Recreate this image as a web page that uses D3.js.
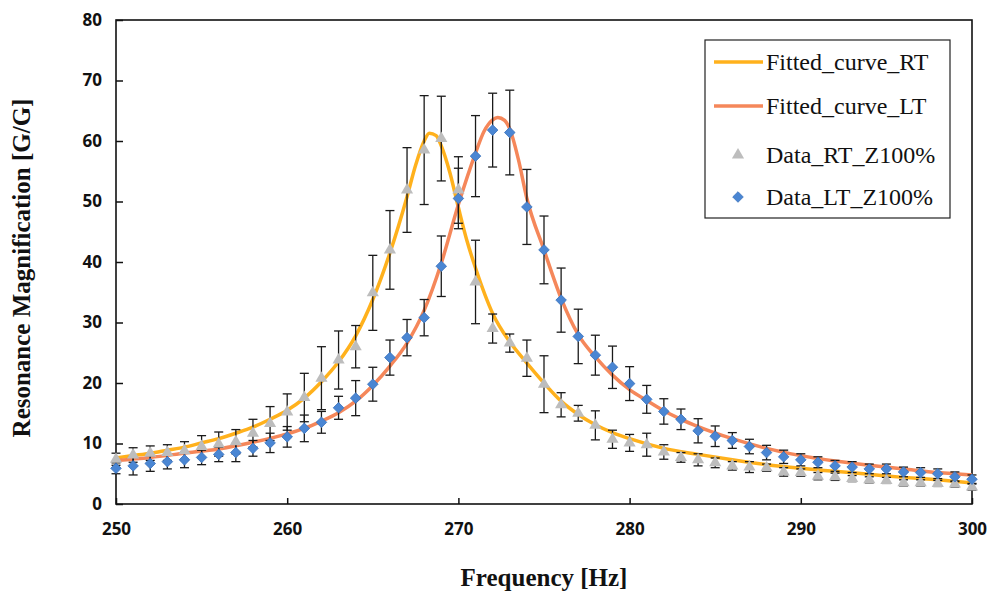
<!DOCTYPE html>
<html>
<head>
<meta charset="utf-8">
<script src="https://cdn.jsdelivr.net/npm/d3@7"></script>
<style>
  html, body { margin: 0; padding: 0; background: #fff; }
  svg { display: block; }
</style>
</head>
<body>
<svg id="chart" width="991" height="596"></svg>
<script>
// ---- data ----
const freq = d3.range(250, 301);

const rtValues = [7.4, 8.1, 8.4, 8.5, 8.8, 9.5, 9.9, 10.3, 11.7, 13.3,
  15.2, 17.6, 20.8, 23.8, 26.0, 34.9, 42.0, 51.9, 58.5, 60.4,
  51.9, 36.7, 29.0, 26.6, 24.1, 19.8, 16.4, 15.0, 13.0, 10.7,
  10.1, 9.8, 8.6, 7.7, 7.3, 6.8, 6.3, 6.1, 6.0, 5.3,
  5.2, 4.6, 4.5, 4.2, 4.0, 3.9, 3.5, 3.5, 3.4, 3.3, 2.8];
const rtErr = [1.0, 1.2, 1.2, 1.3, 1.5, 1.8, 2.0, 2.0, 2.3, 2.8,
  3.0, 4.0, 5.2, 4.8, 3.5, 6.2, 6.5, 7.0, 9.0, 7.0,
  5.5, 6.9, 2.4, 1.5, 3.0, 4.7, 2.0, 1.3, 2.4, 1.5,
  1.4, 1.9, 1.2, 0.8, 1.0, 0.8, 0.7, 0.9, 0.6, 0.7,
  0.6, 0.6, 0.6, 0.5, 0.5, 0.5, 0.5, 0.5, 0.5, 0.5, 0.5];

const ltValues = [5.9, 6.3, 6.7, 7.0, 7.3, 7.7, 8.2, 8.5, 9.2, 10.1,
  11.1, 12.5, 13.5, 15.9, 17.5, 19.8, 24.2, 27.5, 30.8, 39.3,
  50.5, 57.5, 61.8, 61.4, 49.1, 42.0, 33.7, 27.7, 24.6, 22.6,
  19.9, 17.3, 15.3, 14.0, 12.1, 11.2, 10.5, 9.5, 8.5, 7.8,
  7.3, 6.9, 6.3, 6.1, 5.8, 5.8, 5.3, 5.2, 5.0, 4.5, 4.1];
const ltErr = [0.9, 1.5, 1.3, 1.2, 1.3, 1.2, 1.2, 1.5, 1.3, 1.6,
  1.7, 2.2, 1.8, 1.9, 2.9, 2.8, 2.9, 3.0, 3.0, 5.0,
  5.0, 6.7, 6.1, 7.0, 6.2, 5.6, 5.3, 4.5, 3.3, 3.5,
  2.8, 2.3, 2.1, 1.7, 2.0, 1.7, 1.3, 1.2, 1.2, 1.1,
  1.0, 0.9, 0.9, 0.9, 0.8, 0.8, 0.8, 0.8, 0.8, 0.8, 0.7];

// fitted curves, sampled by eye
const rtFitX = [250, 251, 252, 253, 254, 255, 256, 257, 258, 259, 260, 261, 262, 263, 264, 265, 266, 267, 267.5, 268, 268.3, 268.7, 269, 269.5, 270, 270.5, 271, 272, 273, 274, 275, 276, 277, 278, 279, 280, 282, 284, 286, 288, 290, 292, 294, 296, 298, 300];
const rtFitY = [7.6, 8.0, 8.4, 8.9, 9.4, 10.1, 10.8, 11.7, 12.7, 14.0, 15.5, 17.5, 20.2, 23.5, 27.8, 33.8, 41.5, 50.8, 56.0, 60.0, 61.3, 60.9, 59.2, 54.8, 49.0, 43.5, 39.0, 31.5, 26.8, 23.3, 20.0, 17.0, 14.8, 13.1, 11.8, 10.8, 9.2, 8.2, 7.3, 6.5, 5.9, 5.4, 4.9, 4.4, 4.0, 3.5];

const ltFitX = [250, 252, 254, 256, 258, 260, 261, 262, 263, 264, 265, 266, 267, 268, 269, 270, 271, 271.5, 272, 272.3, 272.7, 273, 273.5, 274, 275, 276, 277, 278, 279, 280, 281, 282, 283, 284, 286, 288, 290, 292, 294, 296, 298, 300];
const ltFitY = [7.2, 7.7, 8.4, 9.1, 10.2, 11.6, 12.5, 13.7, 15.1, 17.0, 19.6, 22.8, 26.6, 32.0, 39.8, 49.5, 58.0, 61.6, 63.5, 63.9, 63.4, 62.0, 57.0, 50.5, 42.0, 34.0, 28.0, 24.3, 21.3, 18.9, 17.1, 15.4, 14.0, 12.8, 10.8, 9.2, 8.0, 7.1, 6.4, 5.8, 5.2, 4.8];

const xTicks = [250, 260, 270, 280, 290, 300];
const yTicks = [0, 10, 20, 30, 40, 50, 60, 70, 80];

const legendLabels = ["Fitted_curve_RT", "Fitted_curve_LT", "Data_RT_Z100%", "Data_LT_Z100%"];

// ---- colours ----
const colRT = "#ffb11c";
const colLT = "#f5875a";
const colTri = "#bdbdbd";
const colDia = "#4a86d3";

// ---- layout ----
const svg = d3.select("#chart");
const margin = { left: 116, right: 19, top: 20, bottom: 92 };
const W = 991, H = 596;

const x = d3.scaleLinear().domain([250, 300]).range([margin.left, W - margin.right]);
const y = d3.scaleLinear().domain([0, 80]).range([H - margin.bottom, margin.top]);

const serif = "'Liberation Serif', 'Times New Roman', serif";

// frame
svg.append("rect")
  .attr("x", x(250)).attr("y", y(80))
  .attr("width", x(300) - x(250)).attr("height", y(0) - y(80))
  .attr("fill", "none").attr("stroke", "#111").attr("stroke-width", 1.6);

// axes (ticks pointing inward)
const xAxis = svg.append("g")
  .attr("transform", `translate(0,${y(0)})`)
  .call(d3.axisBottom(x).tickValues(xTicks).tickSizeInner(-6).tickSizeOuter(0).tickPadding(16));
const yAxis = svg.append("g")
  .attr("transform", `translate(${x(250)},0)`)
  .call(d3.axisLeft(y).tickValues(yTicks).tickSizeInner(-7).tickSizeOuter(0).tickPadding(14));

[xAxis, yAxis].forEach(ax => {
  ax.select(".domain").remove();
  ax.selectAll(".tick line").attr("stroke", "#111").attr("stroke-width", 1.5);
  ax.selectAll(".tick text")
    .attr("fill", "#111")
    .style("font-family", "'Open Sans', 'DejaVu Sans', sans-serif")
    .style("font-weight", "700")
    .style("font-size", "17px");
});
xAxis.selectAll(".tick text").attr("dy", "0.9em");

// axis titles
svg.append("text")
  .attr("x", (x(250) + x(300)) / 2).attr("y", 586)
  .attr("text-anchor", "middle")
  .style("font-family", serif)
  .style("font-weight", "700").style("font-size", "25px")
  .attr("fill", "#111")
  .text("Frequency [Hz]");

svg.append("text")
  .attr("transform", `translate(30,${(y(0) + y(80)) / 2 + 6}) rotate(-90)`)
  .attr("text-anchor", "middle")
  .style("font-family", serif)
  .style("font-weight", "700").style("font-size", "25px")
  .attr("fill", "#111")
  .text("Resonance Magnification [G/G]");

// fitted curves
const line = d3.line().x(d => x(d[0])).y(d => y(d[1])).curve(d3.curveMonotoneX);
const plot = svg.append("g");

plot.append("path")
  .datum(d3.zip(rtFitX, rtFitY))
  .attr("d", line)
  .attr("fill", "none").attr("stroke", colRT).attr("stroke-width", 3.5);
plot.append("path")
  .datum(d3.zip(ltFitX, ltFitY))
  .attr("d", line)
  .attr("fill", "none").attr("stroke", colLT).attr("stroke-width", 3.5);

// error bars
function errorBars(vals, errs) {
  const data = freq.map((f, i) => ({ f, v: vals[i], e: errs[i] }));
  const g = plot.append("g").attr("stroke", "#1a1a1a").attr("stroke-width", 1.3);
  g.selectAll("line.v").data(data).enter().append("line")
    .attr("x1", d => x(d.f)).attr("x2", d => x(d.f))
    .attr("y1", d => y(d.v + d.e)).attr("y2", d => y(d.v - d.e));
  ["top", "bot"].forEach(side => {
    g.selectAll("line." + side).data(data).enter().append("line")
      .attr("x1", d => x(d.f) - 4.5).attr("x2", d => x(d.f) + 4.5)
      .attr("y1", d => y(side === "top" ? d.v + d.e : d.v - d.e))
      .attr("y2", d => y(side === "top" ? d.v + d.e : d.v - d.e));
  });
}
errorBars(rtValues, rtErr);
errorBars(ltValues, ltErr);

// markers: triangle and square turned 45deg (excel-style diamond)
const tri = d3.symbol().type(d3.symbolTriangle).size(64);
const dia = d3.symbol().type(d3.symbolSquare).size(56);

plot.append("g").selectAll("path")
  .data(freq.map((f, i) => [f, rtValues[i]])).enter().append("path")
  .attr("d", tri)
  .attr("transform", d => `translate(${x(d[0])},${y(d[1])})`)
  .attr("fill", colTri);

plot.append("g").selectAll("path")
  .data(freq.map((f, i) => [f, ltValues[i]])).enter().append("path")
  .attr("d", dia)
  .attr("transform", d => `translate(${x(d[0])},${y(d[1])}) rotate(45)`)
  .attr("fill", colDia).attr("stroke", "#3c74bd").attr("stroke-width", 0.8);

// legend
const legend = svg.append("g");
legend.append("rect")
  .attr("x", 705).attr("y", 40).attr("width", 245).attr("height", 178)
  .attr("fill", "#fff").attr("stroke", "#222").attr("stroke-width", 1.2);

const rowY = [62, 106, 155, 197];
legendLabels.forEach((lab, i) => {
  const ry = rowY[i];
  if (i < 2) {
    legend.append("line")
      .attr("x1", 714).attr("x2", 763).attr("y1", ry).attr("y2", ry)
      .attr("stroke", i === 0 ? colRT : colLT).attr("stroke-width", 3.5);
  } else if (i === 2) {
    legend.append("path").attr("d", tri)
      .attr("transform", `translate(738,${ry})`).attr("fill", colTri);
  } else {
    legend.append("path").attr("d", dia)
      .attr("transform", `translate(738,${ry}) rotate(45)`)
      .attr("fill", colDia).attr("stroke", "#3c74bd").attr("stroke-width", 0.8);
  }
  legend.append("text")
    .attr("x", 766).attr("y", ry).attr("dy", "0.35em")
    .style("font-family", serif)
    .style("font-size", "24px")
    .attr("fill", "#111")
    .text(lab);
});
</script>
</body>
</html>
